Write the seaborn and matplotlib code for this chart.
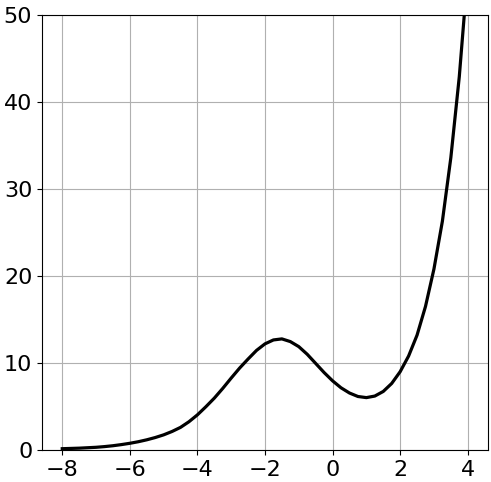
import matplotlib
matplotlib.use("Agg")
import matplotlib.pyplot as plt
import seaborn as sns
import pandas as pd

x_values = [-8.0, -7.75, -7.5, -7.25, -7.0, -6.75, -6.5, -6.25, -6.0, -5.75,
            -5.5, -5.25, -5.0, -4.75, -4.5, -4.25, -4.0, -3.75, -3.5, -3.25,
            -3.0, -2.75, -2.5, -2.25, -2.0, -1.75, -1.5, -1.25, -1.0, -0.75,
            -0.5, -0.25, 0.0, 0.25, 0.5, 0.75, 1.0, 1.25, 1.5, 1.75,
            2.0, 2.25, 2.5, 2.75, 3.0, 3.25, 3.5, 3.75, 4.0]
y_values = [0.15, 0.18, 0.21, 0.26, 0.31, 0.39, 0.49, 0.62, 0.77, 0.95,
            1.17, 1.43, 1.74, 2.13, 2.60, 3.25, 4.04, 4.97, 5.96, 7.08,
            8.27, 9.42, 10.46, 11.45, 12.2, 12.65, 12.77, 12.46, 11.88, 11.0,
            9.95, 8.9, 7.95, 7.15, 6.55, 6.15, 6.02, 6.2, 6.73, 7.65,
            9.0, 10.8, 13.2, 16.5, 20.8, 26.3, 33.6, 42.9, 54.9]
x_ticks = [-8, -6, -4, -2, 0, 2, 4]
y_ticks = [0, 10, 20, 30, 40, 50]

df = pd.DataFrame({"x": x_values, "y": y_values})

fig = plt.figure(figsize=(4.91, 4.82), dpi=100)
ax = fig.add_axes([0.0855, 0.0664, 0.9084, 0.9025])
sns.lineplot(data=df, x="x", y="y", ax=ax, color="black", linewidth=2.3, sort=False)
ax.set_ylim(0, 50)
ax.set_xlim(-8.6, 4.6)
ax.set_xticks(x_ticks)
ax.set_yticks(y_ticks)
ax.tick_params(labelsize=16)
ax.set_xlabel("")
ax.set_ylabel("")
ax.grid(True, color="#b0b0b0", linewidth=0.8)
ax.set_axisbelow(True)
fig.savefig("out.png", dpi=100)
